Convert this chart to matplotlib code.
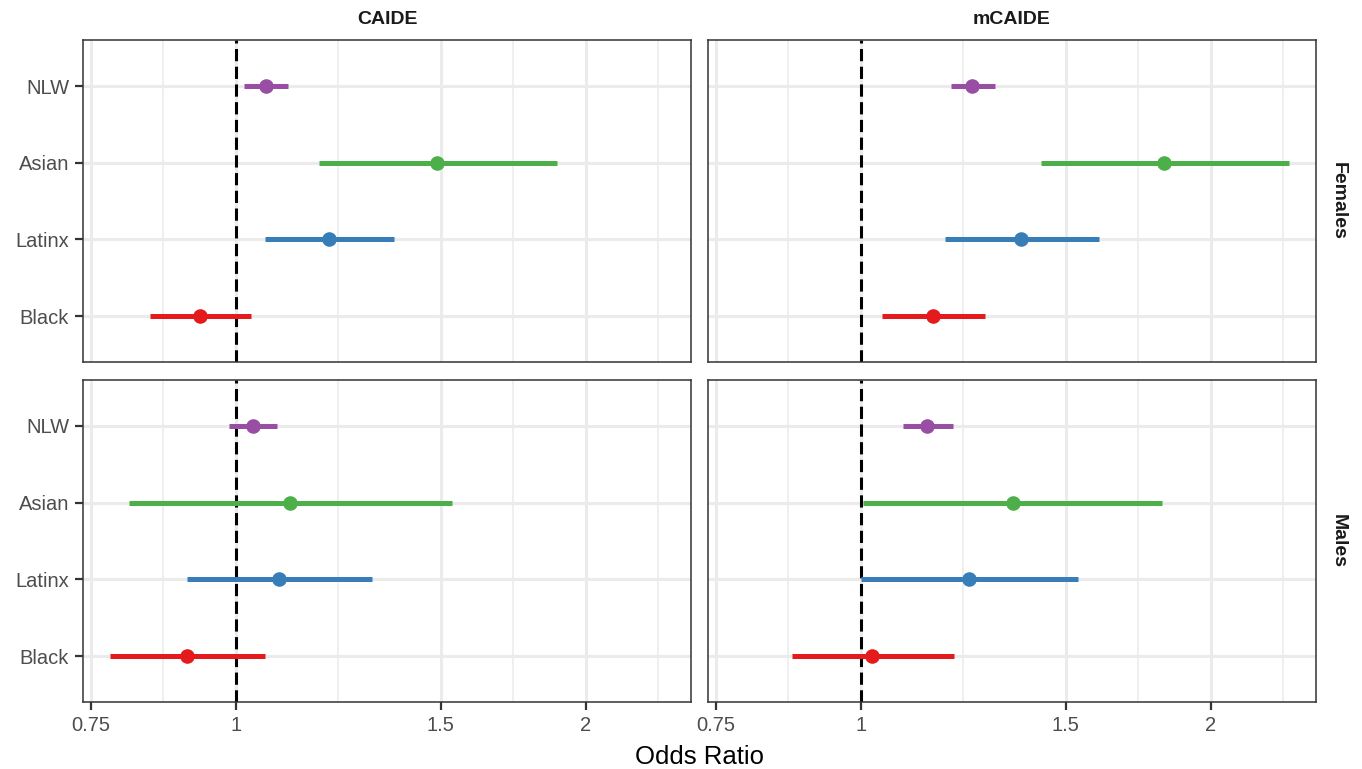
import matplotlib
matplotlib.use("Agg")
import matplotlib.pyplot as plt
import numpy as np
from matplotlib.ticker import FixedLocator, NullFormatter

plt.rcParams['font.family'] = ['Liberation Sans', 'DejaVu Sans']

groups = ["Black", "Latinx", "Asian", "NLW"]
colors = ["#E41A1C", "#377EB8", "#4DAF4A", "#984EA3"]
scores = ["CAIDE", "mCAIDE"]
sexes = ["Females", "Males"]

# odds ratios, order: Black, Latinx, Asian, NLW
caide_f_or = [0.931, 1.203, 1.491, 1.061]
caide_f_lo = [0.843, 1.059, 1.179, 1.016]
caide_f_hi = [1.030, 1.369, 1.888, 1.109]

caide_m_or = [0.907, 1.089, 1.113, 1.034]
caide_m_lo = [0.779, 0.907, 0.809, 0.986]
caide_m_hi = [1.059, 1.310, 1.536, 1.085]

mcaide_f_or = [1.153, 1.373, 1.822, 1.246]
mcaide_f_lo = [1.042, 1.181, 1.428, 1.195]
mcaide_f_hi = [1.278, 1.602, 2.334, 1.304]

mcaide_m_or = [1.022, 1.238, 1.351, 1.140]
mcaide_m_lo = [0.872, 1.000, 1.004, 1.087]
mcaide_m_hi = [1.202, 1.537, 1.815, 1.200]

x_breaks = [0.75, 1, 1.5, 2]
x_labels = ["0.75", "1", "1.5", "2"]
x_minor = [0.866, 1.225, 1.732, 2.31]

panels = {
    ("CAIDE", "Females"): (caide_f_or, caide_f_lo, caide_f_hi),
    ("CAIDE", "Males"): (caide_m_or, caide_m_lo, caide_m_hi),
    ("mCAIDE", "Females"): (mcaide_f_or, mcaide_f_lo, mcaide_f_hi),
    ("mCAIDE", "Males"): (mcaide_m_or, mcaide_m_lo, mcaide_m_hi),
}

W, H = 1362, 769
fig = plt.figure(figsize=(W / 100, H / 100), dpi=100)

lefts = {"CAIDE": 83, "mCAIDE": 708}
tops = {"Females": 40, "Males": 380}
pw, ph = 608, 322

grid_col = "#EBEBEB"
ypos = np.arange(1, len(groups) + 1)

for (score, sex), (orv, lo, hi) in panels.items():
    l = lefts[score]
    t = tops[sex]
    ax = fig.add_axes([l / W, 1 - (t + ph) / H, pw / W, ph / H])
    ax.set_xscale("log")
    ax.set_xlim(0.7386, 2.464)
    ax.set_ylim(0.4, 4.6)
    ax.set_axisbelow(True)

    ax.xaxis.set_major_locator(FixedLocator(x_breaks))
    ax.xaxis.set_minor_locator(FixedLocator(x_minor))
    ax.xaxis.set_minor_formatter(NullFormatter())
    ax.set_yticks(ypos)

    for xb in x_breaks:
        ax.axvline(xb, color=grid_col, lw=2.2, zorder=0)
    for xm in x_minor:
        ax.axvline(xm, color=grid_col, lw=1.1, zorder=0)
    for yp in ypos:
        ax.axhline(yp, color=grid_col, lw=2.2, zorder=0)

    ax.axvline(1, color="black", lw=2.2, ls=(0, (4, 1.8)), zorder=1)

    for i in range(len(groups)):
        ax.hlines(ypos[i], lo[i], hi[i], color=colors[i], lw=3.6, zorder=2)
        ax.plot(orv[i], ypos[i], "o", color=colors[i], ms=10.5, mec="none", zorder=3)

    for s in ax.spines.values():
        s.set_color("#333333")
        s.set_linewidth(1.1)

    ax.tick_params(axis="both", which="major", length=6, width=1.6, color="#333333",
                   labelsize=14.5, labelcolor="#4D4D4D", pad=4)
    ax.tick_params(axis="x", which="minor", length=0)

    if sex == "Males":
        ax.set_xticklabels(x_labels)
    else:
        ax.tick_params(axis="x", which="major", length=0, labelbottom=False)

    if score == "CAIDE":
        ax.set_yticklabels(groups)
    else:
        ax.tick_params(axis="y", length=0, labelleft=False)

    if sex == "Females":
        ax.text(0.5, 1 + 21 / ph, score, transform=ax.transAxes, ha="center", va="center",
                fontsize=14, fontweight="bold", color="#1A1A1A")
    if score == "mCAIDE":
        ax.text(1 + 22 / pw, 0.5, sex, transform=ax.transAxes, rotation=-90, ha="center",
                va="center", fontsize=14, fontweight="bold", color="#1A1A1A")

fig.text(699.5 / W, 1 - 757 / H, "Odds Ratio", ha="center", va="center", fontsize=18.5, color="black")

fig.savefig("out.png", dpi=100)
